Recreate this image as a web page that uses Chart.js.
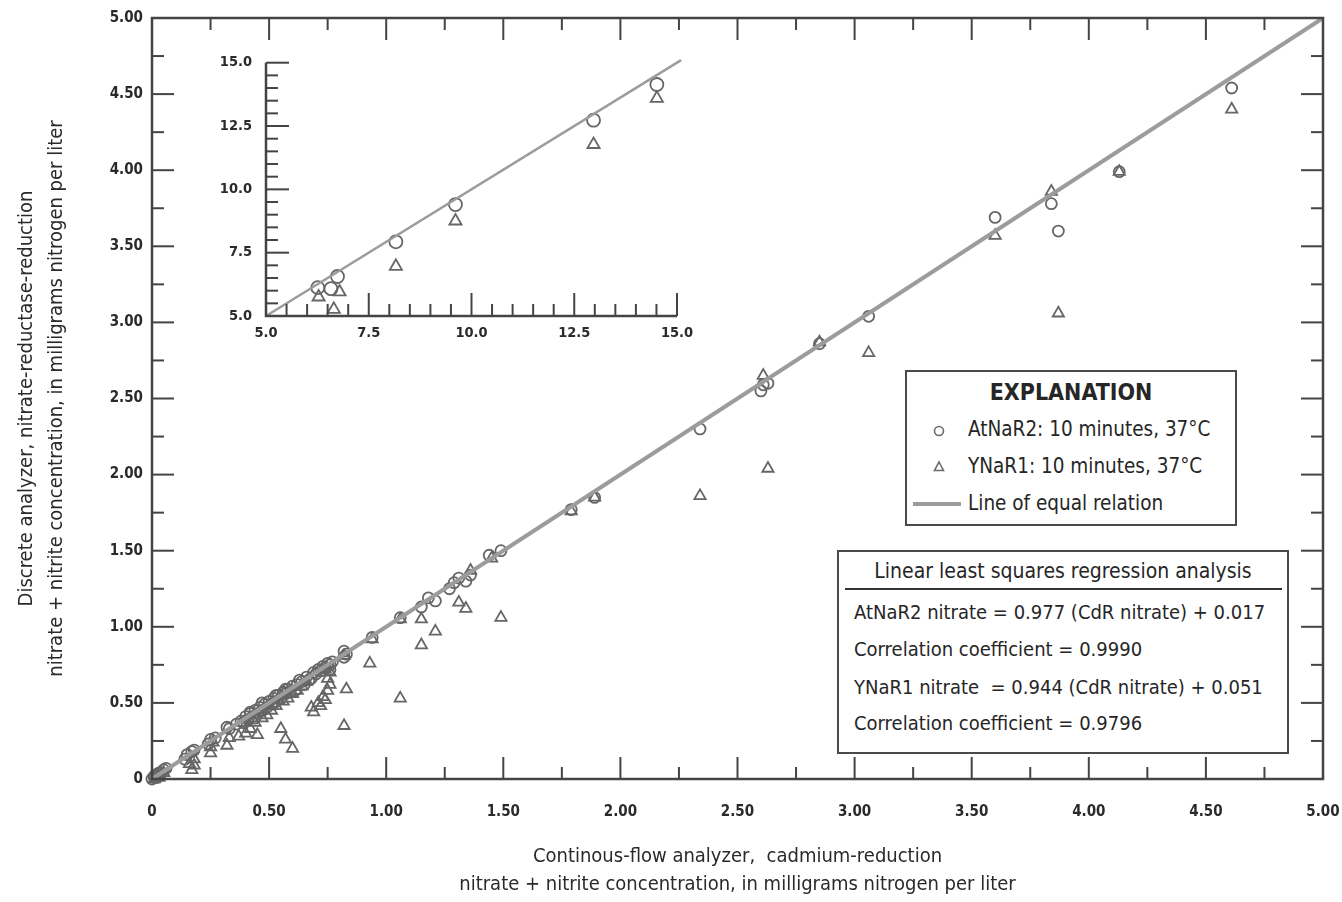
<!DOCTYPE html>
<html>
<head>
<meta charset="utf-8">
<script src="https://cdn.jsdelivr.net/npm/chart.js@4.4.0/dist/chart.umd.min.js"></script>
<style>
  body { margin: 0; background: #fff; }
  #wrap { position: relative; width: 1342px; height: 902px; overflow: hidden; }
  #main { position: absolute; left: 0; top: 0; }
  #inset { position: absolute; left: 200px; top: 40px; }
  .box { position: absolute; box-sizing: border-box; border: 2px solid #4a4a4a; background: #fff;
         font-family: "Liberation Sans Narrow", "DejaVu Sans Condensed", "Arial Narrow", sans-serif; color: #262626; }
  .row { position: absolute; white-space: nowrap; line-height: 1; }
</style>
</head>
<body>
<div id="wrap">
  <canvas id="main" width="1342" height="902"></canvas>
  <canvas id="inset" width="500" height="310"></canvas>

  <div class="box" id="legendBox" style="left:905px; top:370px; width:332px; height:156px;">
    <div class="row" style="left:0; width:328px; top:9px; text-align:center; font-weight:bold; font-size:23px;">EXPLANATION</div>
    <svg class="row" style="left:24px; top:51px;" width="16" height="16"><circle cx="8" cy="8" r="4.5" fill="none" stroke="#6b6b6b" stroke-width="1.6"/></svg>
    <div class="row" style="left:61px; top:47px; font-size:20.5px;">AtNaR2: 10 minutes, 37°C</div>
    <svg class="row" style="left:24px; top:87px;" width="16" height="16"><polygon points="8,3 12.5,11.5 3.5,11.5" fill="none" stroke="#6b6b6b" stroke-width="1.6"/></svg>
    <div class="row" style="left:61px; top:84px; font-size:20.5px;">YNaR1: 10 minutes, 37°C</div>
    <div class="row" style="left:6px; top:130px; width:48px; height:4px; background:#9c9c9c;"></div>
    <div class="row" style="left:61px; top:121px; font-size:20.5px;">Line of equal relation</div>
  </div>

  <div class="box" id="regBox" style="left:837px; top:550px; width:452px; height:204px;">
    <div class="row" style="left:0; width:448px; top:9px; text-align:center; font-size:21px;">Linear least squares regression analysis</div>
    <div class="row" style="left:6px; top:36px; width:437px; height:2px; background:#333;"></div>
    <div class="row" style="left:15px; top:50px; font-size:20px;">AtNaR2 nitrate = 0.977 (CdR nitrate) + 0.017</div>
    <div class="row" style="left:15px; top:87px; font-size:20px;">Correlation coefficient = 0.9990</div>
    <div class="row" style="left:15px; top:125px; font-size:20px;">YNaR1 nitrate &nbsp;= 0.944 (CdR nitrate) + 0.051</div>
    <div class="row" style="left:15px; top:161px; font-size:20px;">Correlation coefficient = 0.9796</div>
  </div>
</div>

<script>
const FONT = '"Liberation Sans Narrow", "DejaVu Sans Condensed", "Arial Narrow", sans-serif';
const INK = "#2a2a2a";
const MARK = "#666666";
const EQUAL_LINE = "#9c9c9c";

// AtNaR2 (circles), main panel, mg N/L
const circleX = [0.00, 0.01, 0.01, 0.02, 0.03, 0.03, 0.04, 0.05, 0.06, 0.02, 0.14, 0.15, 0.17, 0.18, 0.24, 0.25,
  0.27, 0.32, 0.33, 0.36, 0.38, 0.39, 0.40, 0.41, 0.42, 0.42, 0.43, 0.44, 0.44, 0.45, 0.46, 0.47, 0.47, 0.48, 0.49,
  0.50, 0.51, 0.52, 0.52, 0.53, 0.53, 0.54, 0.55, 0.56, 0.57, 0.57, 0.58, 0.59, 0.60, 0.61, 0.62, 0.63, 0.64, 0.65,
  0.66, 0.67, 0.68, 0.69, 0.70, 0.71, 0.72, 0.73, 0.74, 0.75, 0.76, 0.77, 0.76, 0.82, 0.82, 0.83, 0.94, 1.06,
  1.15, 1.18, 1.21, 1.27, 1.29, 1.31, 1.34, 1.36, 1.44, 1.49, 1.79, 1.89, 2.34, 2.60, 2.61, 2.63, 2.85, 3.06,
  3.60, 3.84, 3.87, 4.13, 4.61];
const circleY = [0.00, 0.01, 0.02, 0.03, 0.02, 0.04, 0.04, 0.06, 0.07, 0.01, 0.13, 0.16, 0.18, 0.19, 0.23, 0.26,
  0.27, 0.34, 0.33, 0.36, 0.38, 0.37, 0.41, 0.39, 0.43, 0.44, 0.41, 0.45, 0.40, 0.43, 0.47, 0.45, 0.50, 0.49, 0.47,
  0.51, 0.49, 0.53, 0.50, 0.51, 0.55, 0.55, 0.53, 0.57, 0.56, 0.59, 0.59, 0.57, 0.61, 0.58, 0.62, 0.65, 0.64, 0.62,
  0.67, 0.65, 0.66, 0.70, 0.69, 0.72, 0.71, 0.74, 0.73, 0.76, 0.75, 0.77, 0.72, 0.84, 0.80, 0.82, 0.93, 1.06,
  1.13, 1.19, 1.17, 1.25, 1.29, 1.32, 1.30, 1.34, 1.47, 1.50, 1.77, 1.85, 2.30, 2.55, 2.59, 2.60, 2.86, 3.04,
  3.69, 3.78, 3.60, 3.99, 4.54];

// YNaR1 (triangles), main panel
const triX = [0.01, 0.02, 0.03, 0.05, 0.16, 0.17, 0.18, 0.18, 0.25, 0.25, 0.26, 0.32, 0.33, 0.37, 0.40, 0.42,
  0.44, 0.45, 0.47, 0.49, 0.51, 0.53, 0.55, 0.57, 0.60, 0.56, 0.58, 0.60, 0.62, 0.64, 0.66, 0.68, 0.69, 0.71,
  0.72, 0.73, 0.74, 0.75, 0.76, 0.75, 0.76, 0.74, 0.39, 0.46, 0.50, 0.54, 0.83, 0.82, 0.82, 0.93, 0.94, 1.06,
  1.06, 1.15, 1.15, 1.21, 1.31, 1.34, 1.36, 1.45, 1.49, 1.79, 1.89, 2.34, 2.61, 2.63, 2.85, 3.06, 3.60, 3.84,
  3.87, 4.13, 4.61];
const triY = [0.00, 0.02, 0.01, 0.04, 0.10, 0.06, 0.09, 0.13, 0.17, 0.21, 0.24, 0.22, 0.27, 0.28, 0.30, 0.33,
  0.37, 0.29, 0.40, 0.42, 0.45, 0.48, 0.33, 0.26, 0.20, 0.51, 0.53, 0.56, 0.58, 0.61, 0.64, 0.47, 0.44, 0.50,
  0.48, 0.54, 0.52, 0.58, 0.62, 0.66, 0.70, 0.72, 0.37, 0.44, 0.48, 0.52, 0.59, 0.35, 0.81, 0.76, 0.92, 0.53,
  1.05, 0.88, 1.05, 0.97, 1.16, 1.12, 1.37, 1.45, 1.06, 1.76, 1.85, 1.86, 2.65, 2.04, 2.87, 2.80, 3.57, 3.86,
  3.06, 3.99, 4.40];

// inset: high-concentration samples
const insetCircleX = [6.26, 6.58, 6.74, 8.16, 9.61, 12.97, 14.51];
const insetCircleY = [6.12, 6.08, 6.56, 7.93, 9.40, 12.73, 14.14];
const insetTriX = [6.28, 6.65, 6.79, 8.16, 9.61, 12.97, 14.51];
const insetTriY = [5.75, 5.26, 5.95, 6.96, 8.75, 11.77, 13.59];

const mainRange = [0, 5];
const insetRange = [5, 15];
const insetLineEnds = [5, 15.1];

const toPoints = (xs, ys) => xs.map((x, i) => ({ x, y: ys[i] }));
const near = (v, step) => Math.abs(v / step - Math.round(v / step)) < 1e-6;

// ticks drawn inward, plus the axis frame
const frameTicks = {
  id: "frameTicks",
  afterDatasetsDraw(chart, args, opts) {
    const { ctx, chartArea: a, scales: { x, y } } = chart;
    ctx.save();
    ctx.strokeStyle = opts.color;
    ctx.lineWidth = opts.tickWidth;
    const seg = (x1, y1, x2, y2) => { ctx.beginPath(); ctx.moveTo(x1, y1); ctx.lineTo(x2, y2); ctx.stroke(); };
    x.ticks.forEach((t) => {
      const px = x.getPixelForValue(t.value);
      const len = near(t.value, opts.major) ? opts.long : opts.short;
      seg(px, a.bottom, px, a.bottom - len);
      if (opts.box) seg(px, a.top, px, a.top + len);
    });
    y.ticks.forEach((t) => {
      const py = y.getPixelForValue(t.value);
      const len = near(t.value, opts.major) ? opts.long : opts.short;
      seg(a.left, py, a.left + len, py);
      if (opts.box) seg(a.right, py, a.right - len, py);
    });
    ctx.lineWidth = opts.frameWidth;
    if (opts.box) ctx.strokeRect(a.left, a.top, a.right - a.left, a.bottom - a.top);
    else {
      ctx.beginPath();
      ctx.moveTo(a.left, a.top);
      ctx.lineTo(a.left, a.bottom);
      ctx.lineTo(a.right, a.bottom);
      ctx.stroke();
    }
    ctx.restore();
  }
};

const mainLabel = (v) => (near(v, 0.5) ? (v === 0 ? "0" : v.toFixed(2)) : "");
const insetLabel = (v) => (near(v, 2.5) ? v.toFixed(1) : "");

const tickFont = { family: FONT, size: 15, weight: "bold" };

new Chart(document.getElementById("main"), {
  type: "scatter",
  data: {
    datasets: [
      { type: "line", label: "Line of equal relation", data: toPoints(mainRange, mainRange), borderColor: EQUAL_LINE,
        borderWidth: 4, pointRadius: 0, fill: false },
      { label: "AtNaR2", data: toPoints(circleX, circleY), pointStyle: "circle", pointRadius: 5.5, borderWidth: 1.8,
        borderColor: MARK, backgroundColor: "rgba(0,0,0,0)", clip: false },
      { label: "YNaR1", data: toPoints(triX, triY), pointStyle: "triangle", pointRadius: 6.5, borderWidth: 1.8,
        borderColor: MARK, backgroundColor: "rgba(0,0,0,0)", clip: false }
    ]
  },
  options: {
    responsive: false,
    animation: false,
    devicePixelRatio: 1,
    layout: { padding: { left: 0, top: 17, right: 0, bottom: 0 } },
    plugins: {
      legend: { display: false },
      tooltip: { enabled: false },
      frameTicks: { color: "#444", tickWidth: 2, frameWidth: 2.5, major: 0.5, long: 22, short: 12, box: true }
    },
    scales: {
      x: {
        type: "linear", min: mainRange[0], max: mainRange[1],
        grid: { display: false, drawTicks: false }, border: { display: false },
        ticks: { stepSize: 0.25, autoSkip: false, maxRotation: 0, padding: 24, color: INK, font: tickFont, callback: mainLabel },
        title: { display: true, color: INK, font: { family: FONT, size: 20, lineHeight: 1.4 }, padding: { top: 0, bottom: 3 },
          text: ["Continous-flow analyzer,  cadmium-reduction", "nitrate + nitrite concentration, in milligrams nitrogen per liter"] },
        afterFit: (s) => { s.height = 123; s.paddingLeft = 0; s.paddingRight = 19; }
      },
      y: {
        type: "linear", min: mainRange[0], max: mainRange[1],
        grid: { display: false, drawTicks: false }, border: { display: false },
        ticks: { stepSize: 0.25, autoSkip: false, padding: 9, color: INK, font: tickFont, callback: mainLabel },
        title: { display: true, color: INK, font: { family: FONT, size: 20, lineHeight: 1.5 }, padding: { top: 12, bottom: 0 },
          text: ["Discrete analyzer, nitrate-reductase-reduction", "nitrate + nitrite concentration, in milligrams nitrogen per liter"] },
        afterFit: (s) => { s.width = 152; }
      }
    }
  },
  plugins: [frameTicks]
});

new Chart(document.getElementById("inset"), {
  type: "scatter",
  data: {
    datasets: [
      { type: "line", data: toPoints(insetLineEnds, insetLineEnds), borderColor: EQUAL_LINE, borderWidth: 2.5, pointRadius: 0,
        fill: false, clip: false },
      { data: toPoints(insetCircleX, insetCircleY), pointStyle: "circle", pointRadius: 6.5, borderWidth: 1.8,
        borderColor: MARK, backgroundColor: "rgba(0,0,0,0)", clip: false },
      { data: toPoints(insetTriX, insetTriY), pointStyle: "triangle", pointRadius: 7, borderWidth: 1.8,
        borderColor: MARK, backgroundColor: "rgba(0,0,0,0)", clip: false }
    ]
  },
  options: {
    responsive: false,
    animation: false,
    devicePixelRatio: 1,
    layout: { padding: { left: 0, top: 18, right: 0, bottom: 0 } },
    plugins: {
      legend: { display: false },
      tooltip: { enabled: false },
      frameTicks: { color: "#444", tickWidth: 2, frameWidth: 2.5, major: 2.5, long: 23, short: 12, box: false }
    },
    scales: {
      x: {
        type: "linear", min: insetRange[0], max: insetRange[1],
        grid: { display: false, drawTicks: false }, border: { display: false },
        ticks: { stepSize: 0.5, autoSkip: false, maxRotation: 0, padding: 9, color: INK, font: { family: FONT, size: 14.5, weight: "bold" }, callback: insetLabel },
        afterFit: (s) => { s.height = 34; s.paddingLeft = 0; s.paddingRight = 23; }
      },
      y: {
        type: "linear", min: insetRange[0], max: insetRange[1],
        grid: { display: false, drawTicks: false }, border: { display: false },
        ticks: { stepSize: 0.5, autoSkip: false, padding: 14, color: INK, font: { family: FONT, size: 14.5, weight: "bold" }, callback: insetLabel },
        afterFit: (s) => { s.width = 66; }
      }
    }
  },
  plugins: [frameTicks]
});
</script>
</body>
</html>
